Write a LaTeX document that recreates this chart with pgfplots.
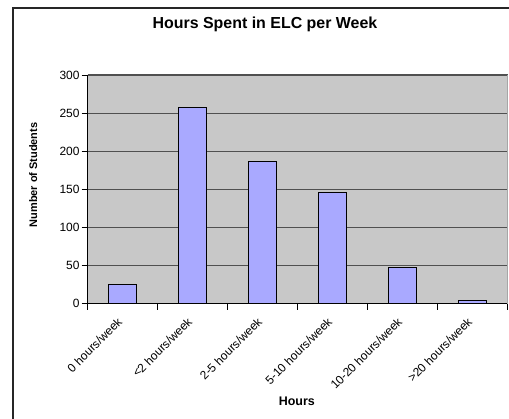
\documentclass[border=0pt]{standalone}
\usepackage{pgfplots}
\pgfplotsset{compat=1.18}
\usepackage{fontspec}
\setmainfont{Liberation Sans}
\definecolor{plotbg}{RGB}{200,200,200}
\definecolor{barfill}{RGB}{169,169,255}
\definecolor{gridc}{RGB}{80,80,80}
\begin{document}
\begin{tikzpicture}
\begin{axis}[
  at={(87.7bp,115.3bp)}, anchor=south west,
  scale only axis, width=420bp, height=228.7bp,
  xmin=-0.5, xmax=5.5, ymin=0, ymax=300,
  ytick={0,50,...,300},
  xtick={0,...,5},
  xticklabels={0 hours/week,<2 hours/week,2-5 hours/week,5-10 hours/week,10-20 hours/week,>20 hours/week},
  minor xtick={-0.5,0.5,...,5.5},
  major x tick style={draw=none},
  tick align=outside,
  major tick length=6bp, minor tick length=6bp,
  tick style={black, line width=0.8bp},
  axis x line*=bottom, axis y line*=left,
  axis line style={black, line width=1bp},
  ymajorgrids, major grid style={gridc, line width=1.1bp},
  axis background/.style={fill=plotbg},
  /pgf/number format/assume math mode=true,
  yticklabel style={font=\fontsize{12}{14}\selectfont, inner sep=2bp},
  xticklabel style={font=\fontsize{12}{14}\selectfont, rotate=45, anchor=east, inner sep=1bp, xshift=-8bp, yshift=-5bp},
  title={Hours Spent in ELC per Week},
  title style={font=\bfseries\fontsize{16}{18}\selectfont, at={(axis description cs:0.422,1.197)}, anchor=center},
  xlabel={Hours},
  xlabel style={font=\bfseries\fontsize{12.5}{14}\selectfont, at={(axis description cs:0.498,-0.4255)}, anchor=center},
  ylabel={Number of Students},
  ylabel style={font=\bfseries\fontsize{11}{13}\selectfont, at={(axis description cs:-0.130,0.563)}, anchor=center},
  extra description/.code={\draw[black!35, line width=1bp] (rel axis cs:1,0) -- (rel axis cs:1,1);},
]
\addplot[ybar, bar width=0.4, fill=barfill, draw=black, line width=0.8bp] coordinates {
  (0,25) (1,258) (2,187) (3,146) (4,47) (5,4)
};
\end{axis}
\draw[line width=1.2bp, black!85] (13bp,-5bp) -- (13bp,411bp) -- (530bp,411bp);
\pgfresetboundingbox
\useasboundingbox (0,0) rectangle (509bp,419bp);
\end{tikzpicture}
\end{document}
